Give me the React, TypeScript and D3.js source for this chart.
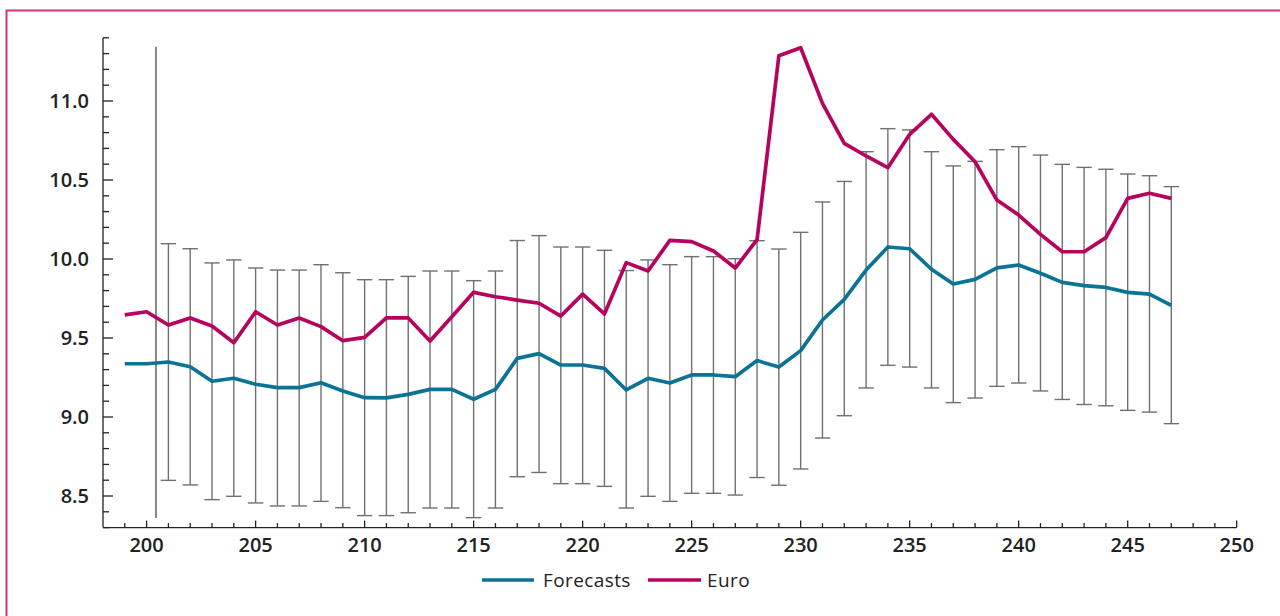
import React from "react";
import * as d3 from "d3";

const periods = d3.range(199, 248);
const forecasts = [
  9.337, 9.337, 9.348, 9.318, 9.226, 9.245, 9.207, 9.186, 9.186, 9.217,
  9.165, 9.122, 9.121, 9.143, 9.175, 9.175, 9.112, 9.175, 9.371, 9.401,
  9.329, 9.329, 9.308, 9.171, 9.245, 9.215, 9.266, 9.266, 9.255, 9.357,
  9.316, 9.42, 9.614, 9.745, 9.93, 10.076, 10.065, 9.935, 9.842, 9.871,
  9.944, 9.962, 9.91, 9.852, 9.831, 9.82, 9.789, 9.778, 9.707,
];
const euro = [
  9.646, 9.666, 9.582, 9.627, 9.576, 9.47, 9.666, 9.582, 9.627, 9.572,
  9.483, 9.504, 9.628, 9.627, 9.481, 9.635, 9.789, 9.761, 9.74, 9.72,
  9.639, 9.778, 9.652, 9.977, 9.924, 10.118, 10.11, 10.051, 9.943, 10.122,
  11.287, 11.337, 10.985, 10.732, 10.652, 10.578, 10.789, 10.916, 10.757, 10.616,
  10.373, 10.278, 10.156, 10.046, 10.046, 10.135, 10.384, 10.416, 10.384,
];
const errPeriods = d3.range(201, 248);
const errUpper = [
  10.097, 10.065, 9.975, 9.994, 9.943, 9.93, 9.93, 9.964, 9.913, 9.869,
  9.869, 9.89, 9.924, 9.924, 9.863, 9.924, 10.117, 10.148, 10.076, 10.076,
  10.055, 9.927, 9.994, 9.964, 10.015, 10.015, 10.002, 10.116, 10.063, 10.169,
  10.361, 10.491, 10.679, 10.825, 10.817, 10.679, 10.589, 10.618, 10.692, 10.711,
  10.658, 10.599, 10.58, 10.568, 10.538, 10.527, 10.458,
];
const errLower = [
  8.599, 8.57, 8.477, 8.498, 8.456, 8.437, 8.437, 8.466, 8.426, 8.376,
  8.376, 8.394, 8.424, 8.424, 8.363, 8.424, 8.622, 8.649, 8.578, 8.578,
  8.561, 8.424, 8.498, 8.466, 8.517, 8.517, 8.506, 8.617, 8.568, 8.671,
  8.867, 9.008, 9.184, 9.327, 9.316, 9.184, 9.091, 9.12, 9.194, 9.215,
  9.165, 9.111, 9.079, 9.071, 9.042, 9.031, 8.958,
];
const markerX = 200.43;
const markerRange = [8.36, 11.344];
const xTicks = [200, 205, 210, 215, 220, 225, 230, 235, 240, 245, 250];
const yTicks = [8.5, 9.0, 9.5, 10.0, 10.5, 11.0];
const seriesNames = ["Forecasts", "Euro"];
const seriesColors = ["#0a7396", "#b5035e"];

export default function App() {
  const x = d3.scaleLinear().domain([198, 250]).range([103, 1236.7]);
  const y = d3.scaleLinear().domain([8.3, 11.4]).range([527.6, 37.8]);
  const line = d3
    .line<number>()
    .x((_, i) => x(periods[i]))
    .y((d) => y(d))
    .curve(d3.curveLinear);

  const xMinor = d3.range(199, 251).filter((t) => t % 5 !== 0);
  const yMinor = d3.range(83, 115).map((v) => v / 10).filter((v) => Math.round(v * 10) % 5 !== 0);
  const font = "'Open Sans', 'DejaVu Sans', sans-serif";
  const axisY = y(8.3);
  const axisX = x(198);
  const capHalf = 7.7;

  return (
    <svg
      width={1280}
      height={616}
      style={{ position: "absolute", left: 0, top: 0, background: "#fff" }}
    >
      <rect x={6.5} y={10.5} width={1400} height={800} fill="none" stroke="#d2337f" strokeWidth={2} />

      {/* error bars */}
      <g stroke="#707070" strokeWidth={1.4} fill="none">
        {errPeriods.map((t, i) => (
          <g key={t}>
            <line x1={x(t)} x2={x(t)} y1={y(errUpper[i])} y2={y(errLower[i])} />
            <line x1={x(t) - capHalf} x2={x(t) + capHalf} y1={y(errUpper[i])} y2={y(errUpper[i])} />
            <line x1={x(t) - capHalf} x2={x(t) + capHalf} y1={y(errLower[i])} y2={y(errLower[i])} />
          </g>
        ))}
        <line
          x1={x(markerX)}
          x2={x(markerX)}
          y1={y(markerRange[0])}
          y2={y(markerRange[1])}
          stroke="#555"
        />
      </g>

      {/* axes */}
      <g stroke="#222" strokeWidth={1.3} fill="none">
        <line x1={axisX} x2={x(250)} y1={axisY} y2={axisY} />
        <line x1={axisX} x2={axisX} y1={axisY} y2={y(11.4)} />
        {xTicks.map((t) => (
          <line key={"xt" + t} x1={x(t)} x2={x(t)} y1={axisY} y2={axisY - 7} />
        ))}
        {xMinor.map((t) => (
          <line key={"xm" + t} x1={x(t)} x2={x(t)} y1={axisY} y2={axisY - 4.5} />
        ))}
        {yTicks.map((v) => (
          <line key={"yt" + v} x1={axisX} x2={axisX + 10} y1={y(v)} y2={y(v)} />
        ))}
        {yMinor.map((v) => (
          <line key={"ym" + v} x1={axisX} x2={axisX + 6} y1={y(v)} y2={y(v)} />
        ))}
      </g>

      <g fontFamily={font} fontWeight={600} fontSize={20} fill="#222">
        {xTicks.map((t) => (
          <text key={"xl" + t} x={x(t)} y={552} textAnchor="middle">
            {t}
          </text>
        ))}
        {yTicks.map((v) => (
          <text key={"yl" + v} x={89} y={y(v)} dy="0.35em" textAnchor="end">
            {d3.format(".1f")(v)}
          </text>
        ))}
      </g>

      {/* series */}
      <path d={line(forecasts) || ""} fill="none" stroke={seriesColors[0]} strokeWidth={3.7} strokeLinejoin="round" />
      <path d={line(euro) || ""} fill="none" stroke={seriesColors[1]} strokeWidth={3.7} strokeLinejoin="round" />

      {/* legend */}
      <g fontFamily={font} fontSize={19} fill="#222" letterSpacing={0.4}>
        <line x1={482} x2={534} y1={580} y2={580} stroke={seriesColors[0]} strokeWidth={3.7} />
        <text x={543} y={580} dy="0.35em">{seriesNames[0]}</text>
        <line x1={648} x2={701} y1={580} y2={580} stroke={seriesColors[1]} strokeWidth={3.7} />
        <text x={707} y={580} dy="0.35em">{seriesNames[1]}</text>
      </g>
    </svg>
  );
}
